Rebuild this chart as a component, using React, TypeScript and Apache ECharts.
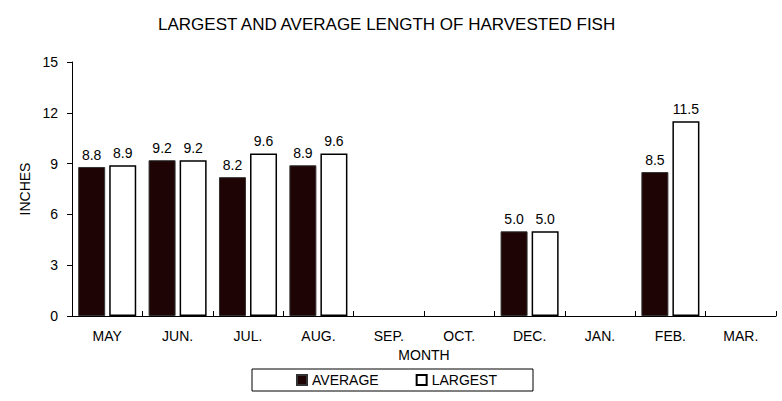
import React, { useEffect, useRef } from "react";
import * as echarts from "echarts";

const months = ["MAY", "JUN.", "JUL.", "AUG.", "SEP.", "OCT.", "DEC.", "JAN.", "FEB.", "MAR."];
const averageValues: (number | null)[] = [8.8, 9.2, 8.2, 8.9, null, null, 5.0, null, 8.5, null];
const largestValues: (number | null)[] = [8.9, 9.2, 9.6, 9.6, null, null, 5.0, null, 11.5, null];
const yTicks = [0, 3, 6, 9, 12, 15];

const FONT = "'Liberation Sans', Arial, sans-serif";

export default function App() {
  const ref = useRef<HTMLDivElement>(null);
  useEffect(() => {
    if (!ref.current) return;
    const chart = echarts.init(ref.current, null, { renderer: "svg" });
    const labelOpt = {
      show: true,
      position: "top" as const,
      distance: 5,
      color: "#000",
      fontFamily: FONT,
      fontSize: 14,
      formatter: (p: any) => (p.value == null ? "" : Number(p.value).toFixed(1)),
    };
    chart.setOption({
      animation: false,
      backgroundColor: "#fff",
      textStyle: { fontFamily: FONT },
      title: {
        text: "LARGEST AND AVERAGE LENGTH OF HARVESTED FISH",
        left: 153,
        top: 11,
        textStyle: { fontFamily: FONT, fontSize: 17, fontWeight: "normal", color: "#000" },
      },
      legend: {
        left: 252,
        top: 369,
        icon: "rect",
        itemWidth: 10,
        itemHeight: 10,
        itemGap: 37,
        padding: [4, 36, 4, 44],
        borderColor: "#000",
        borderWidth: 1,
        textStyle: { fontFamily: FONT, fontSize: 14, color: "#000" },
        data: ["AVERAGE", "LARGEST"],
      },
      grid: { left: 72, right: 6, top: 62, bottom: 85 },
      xAxis: {
        type: "category",
        data: months,
        name: "MONTH",
        nameLocation: "middle",
        nameGap: 32,
        nameTextStyle: { fontFamily: FONT, fontSize: 14, color: "#000" },
        axisLine: { lineStyle: { color: "#000", width: 1 } },
        axisTick: { show: true, inside: true, length: 5, lineStyle: { color: "#000" } },
        axisLabel: { color: "#000", fontFamily: FONT, fontSize: 14, margin: 13 },
      },
      yAxis: {
        type: "value",
        min: 0,
        max: 15,
        interval: 3,
        name: "INCHES",
        nameLocation: "middle",
        nameGap: 32,
        nameTextStyle: { fontFamily: FONT, fontSize: 14, color: "#000" },
        axisLine: { show: true, lineStyle: { color: "#000", width: 1 } },
        axisTick: { show: true, length: 5, lineStyle: { color: "#000" } },
        axisLabel: {
          color: "#000",
          fontFamily: FONT,
          fontSize: 14,
          margin: 14,
          formatter: (v: number) => (yTicks.includes(v) ? String(v) : ""),
        },
        splitLine: { show: false },
      },
      series: [
        {
          name: "AVERAGE",
          type: "bar",
          data: averageValues,
          barWidth: 27,
          barGap: "15%",
          itemStyle: { color: "#1e0404", borderColor: "#333", borderWidth: 1 },
          label: labelOpt,
        },
        {
          name: "LARGEST",
          type: "bar",
          data: largestValues,
          barWidth: 27,
          itemStyle: { color: "#fff", borderColor: "#000", borderWidth: 1.5 },
          label: labelOpt,
        },
      ],
    });
    return () => chart.dispose();
  }, []);
  return <div ref={ref} style={{ width: 782, height: 401, position: "absolute", left: 0, top: 0 }} />;
}
